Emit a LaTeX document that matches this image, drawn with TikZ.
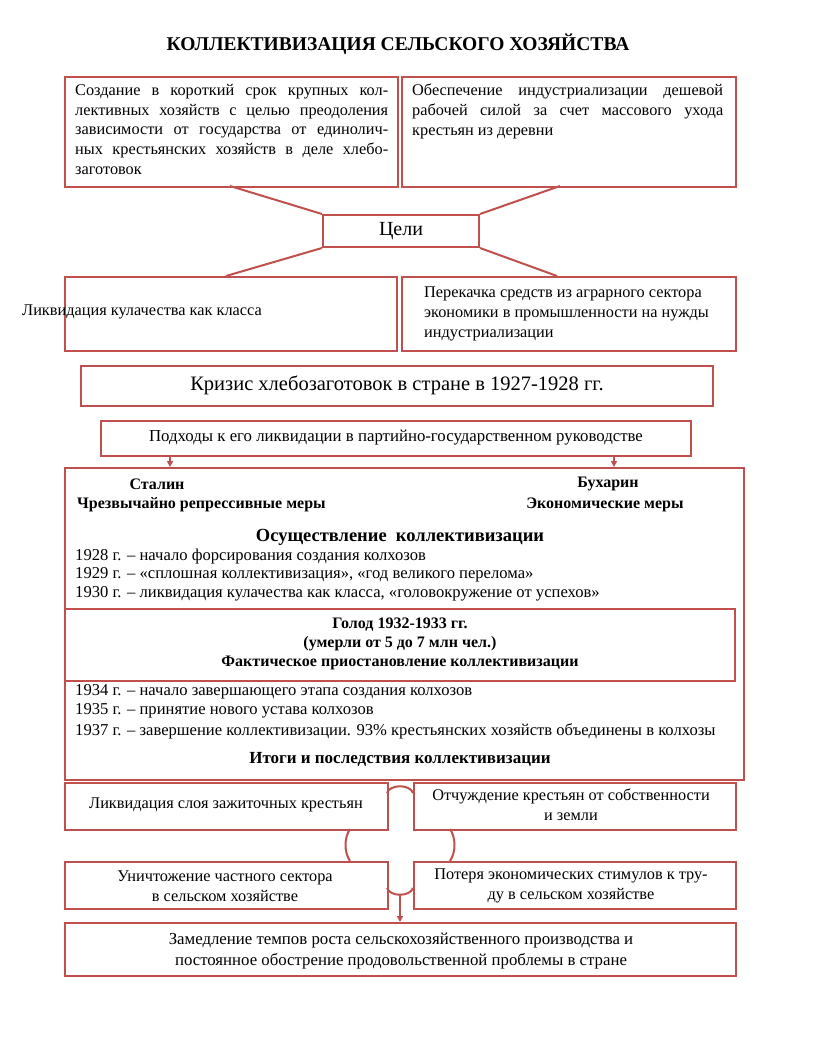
\documentclass[tikz,border=0pt]{standalone}
\usepackage{fontspec}
\setmainfont{Liberation Serif}
\usetikzlibrary{arrows.meta}
\definecolor{lc}{RGB}{192,80,77}
\newcommand\jl[2]{\makebox[#1][s]{#2}}
\newcommand\mkbox[5]{\node[box, minimum width={(#4-#2)*1pt}, minimum height={(#5-#3)*1pt}] (#1) at (#2,#3) {};}
\begin{document}
\begin{tikzpicture}[x=1pt,y=-1pt,
 box/.style={draw=lc, line width=2pt, anchor=north west, inner sep=0pt},
 conn/.style={draw=lc, line width=2pt},
 arr/.style={draw=lc, line width=1.5pt, -{Triangle[width=6pt,length=6pt]}},
 txt/.style={inner sep=0pt, font=\fontsize{16.3}{19.7}\selectfont},
 ytxt/.style={inner sep=0pt, anchor=west, font=\fontsize{16.6}{19.7}\selectfont},
 btxt/.style={inner sep=0pt, font=\bfseries\fontsize{16}{19}\selectfont},
 ctxt/.style={txt, align=center},
]
\useasboundingbox (0,0) rectangle (816,1039);
\fill[white] (0,0) rectangle (816,1039);

% title
\node[inner sep=0pt, font=\bfseries\fontsize{19.5}{22}\selectfont] (title) at (398,44) {КОЛЛЕКТИВИЗАЦИЯ СЕЛЬСКОГО ХОЗЯЙСТВА};

% goals
\mkbox{g1}{64}{76}{397}{186}
\mkbox{g2}{401}{76}{735}{186}
\node[txt, anchor=north west, align=left] (g1t) at (75,84) {\jl{313pt}{Создание в короткий срок крупных кол-}\\
\jl{313pt}{лективных хозяйств с целью преодоления}\\
\jl{313pt}{зависимости от государства от единолич-}\\
\jl{313pt}{ных крестьянских хозяйств в деле хлебо-}\\
заготовок};
\node[txt, anchor=north west, align=left] (g2t) at (412,84) {\jl{311pt}{Обеспечение индустриализации дешевой}\\
\jl{311pt}{рабочей силой за счет массового ухода}\\
крестьян из деревни};

\mkbox{goal}{322}{214}{478}{246}
\node[inner sep=0pt, font=\fontsize{20}{22}\selectfont] (goalt) at (goal.center) {Цели};

\mkbox{g3}{64}{276}{396}{350}
\mkbox{g4}{401}{276}{735}{350}
\node[txt, anchor=west] (g3t) at (22,312) {Ликвидация кулачества как класса};
\node[txt, anchor=north west, align=left] (g4t) at (424,287) {Перекачка средств из аграрного сектора\\
экономики в промышленности на нужды\\
индустриализации};

\coordinate (c1) at (230,186);
\coordinate (c2) at (560,186);
\coordinate (c3) at (226,276);
\coordinate (c4) at (557,276);
\draw[conn] (c1) -- (goal.north west);
\draw[conn] (c2) -- (goal.north east);
\draw[conn] (goal.south west) -- (c3);
\draw[conn] (goal.south east) -- (c4);

% crisis
\mkbox{crisis}{80}{365}{712}{405}
\node[inner sep=0pt, font=\fontsize{20.5}{23}\selectfont] (crisist) at (397,385) {Кризис хлебозаготовок в стране в 1927-1928 гг.};
\mkbox{appr}{100}{420}{690}{455}
\node[inner sep=0pt, font=\fontsize{16.8}{19}\selectfont] (apprt) at (396,438) {Подходы к его ликвидации в партийно-государственном руководстве};

% big box
\mkbox{big}{64}{467}{743}{779}
\coordinate (ax1) at (170,0);
\coordinate (ax2) at (614,0);
\draw[arr] (appr.south -| ax1) -- (big.north -| ax1);
\draw[arr] (appr.south -| ax2) -- (big.north -| ax2);

\node[btxt] (stalin) at (157,484) {Сталин};
\node[btxt, anchor=west] (stalin2) at (77,505) {Чрезвычайно репрессивные меры};
\node[btxt] (buch) at (608,484) {Бухарин};
\node[btxt] (buch2) at (605,505) {Экономические меры};
\node[inner sep=0pt, font=\bfseries\fontsize{18.5}{21}\selectfont] (osush) at (400,537) {Осуществление\ \ коллективизации};
\node[ytxt] (y1928) at (75,556) {1928 г. – начало форсирования создания колхозов};
\node[ytxt] (y1929) at (75,575) {1929 г. – «сплошная коллективизация», «год великого перелома»};
\node[ytxt] (y1930) at (75,594) {1930 г. – ликвидация кулачества как класса, «головокружение от успехов»};

\mkbox{famine}{64}{608}{734}{680}
\node[btxt] (fam1) at (400,625) {Голод 1932-1933 гг.};
\node[btxt] (fam2) at (400,644) {(умерли от 5 до 7 млн чел.)};
\node[btxt] (fam3) at (400,663) {Фактическое приостановление коллективизации};

\node[ytxt] (y1934) at (75,692) {1934 г. – начало завершающего этапа создания колхозов};
\node[ytxt] (y1935) at (75,711) {1935 г. – принятие нового устава колхозов};
\node[ytxt] (y1937) at (75,731) {1937 г. – завершение коллективизации. 93\% крестьянских хозяйств объединены в колхозы};
\node[inner sep=0pt, font=\bfseries\fontsize{17}{19}\selectfont] (itogi) at (400,759) {Итоги и последствия коллективизации};

% results
\mkbox{r1l}{64}{782}{387}{829}
\mkbox{r1r}{413}{782}{735}{829}
\mkbox{r2l}{64}{861}{387}{908}
\mkbox{r2r}{413}{861}{735}{908}
\mkbox{fin}{64}{922}{735}{975}
\node[txt] (r1lt) at (226,805) {Ликвидация слоя зажиточных крестьян};
\node[ctxt] (r1rt) at (571,805) {Отчуждение крестьян от собственности\\и земли};
\node[ctxt] (r2lt) at (225,886) {Уничтожение частного сектора\\в сельском хозяйстве};
\node[ctxt] (r2rt) at (571,886) {Потеря экономических стимулов к тру-\\ду в сельском хозяйстве};
\node[ctxt, font=\fontsize{16.8}{21.5}\selectfont] (fint) at (401,951) {Замедление темпов роста сельскохозяйственного производства и\\постоянное обострение продовольственной проблемы в стране};

\coordinate (t1) at (387,793);
\coordinate (t2) at (413,793);
\draw[conn] (t1) .. controls (390,784) and (410,784) .. (t2);
\coordinate (l1) at (350,829);
\coordinate (l2) at (350,861);
\draw[conn] (l1) .. controls (344,838) and (344,852) .. (l2);
\coordinate (m1) at (450,829);
\coordinate (m2) at (450,861);
\draw[conn] (m1) .. controls (456,838) and (456,852) .. (m2);
\coordinate (b1) at (387,888);
\coordinate (b2) at (413,888);
\coordinate (bm) at (400,895);
\draw[conn] (b1) .. controls (390,897) and (410,897) .. (b2);
\draw[arr] (bm) -- (fin.north -| bm);
\end{tikzpicture}
\end{document}
